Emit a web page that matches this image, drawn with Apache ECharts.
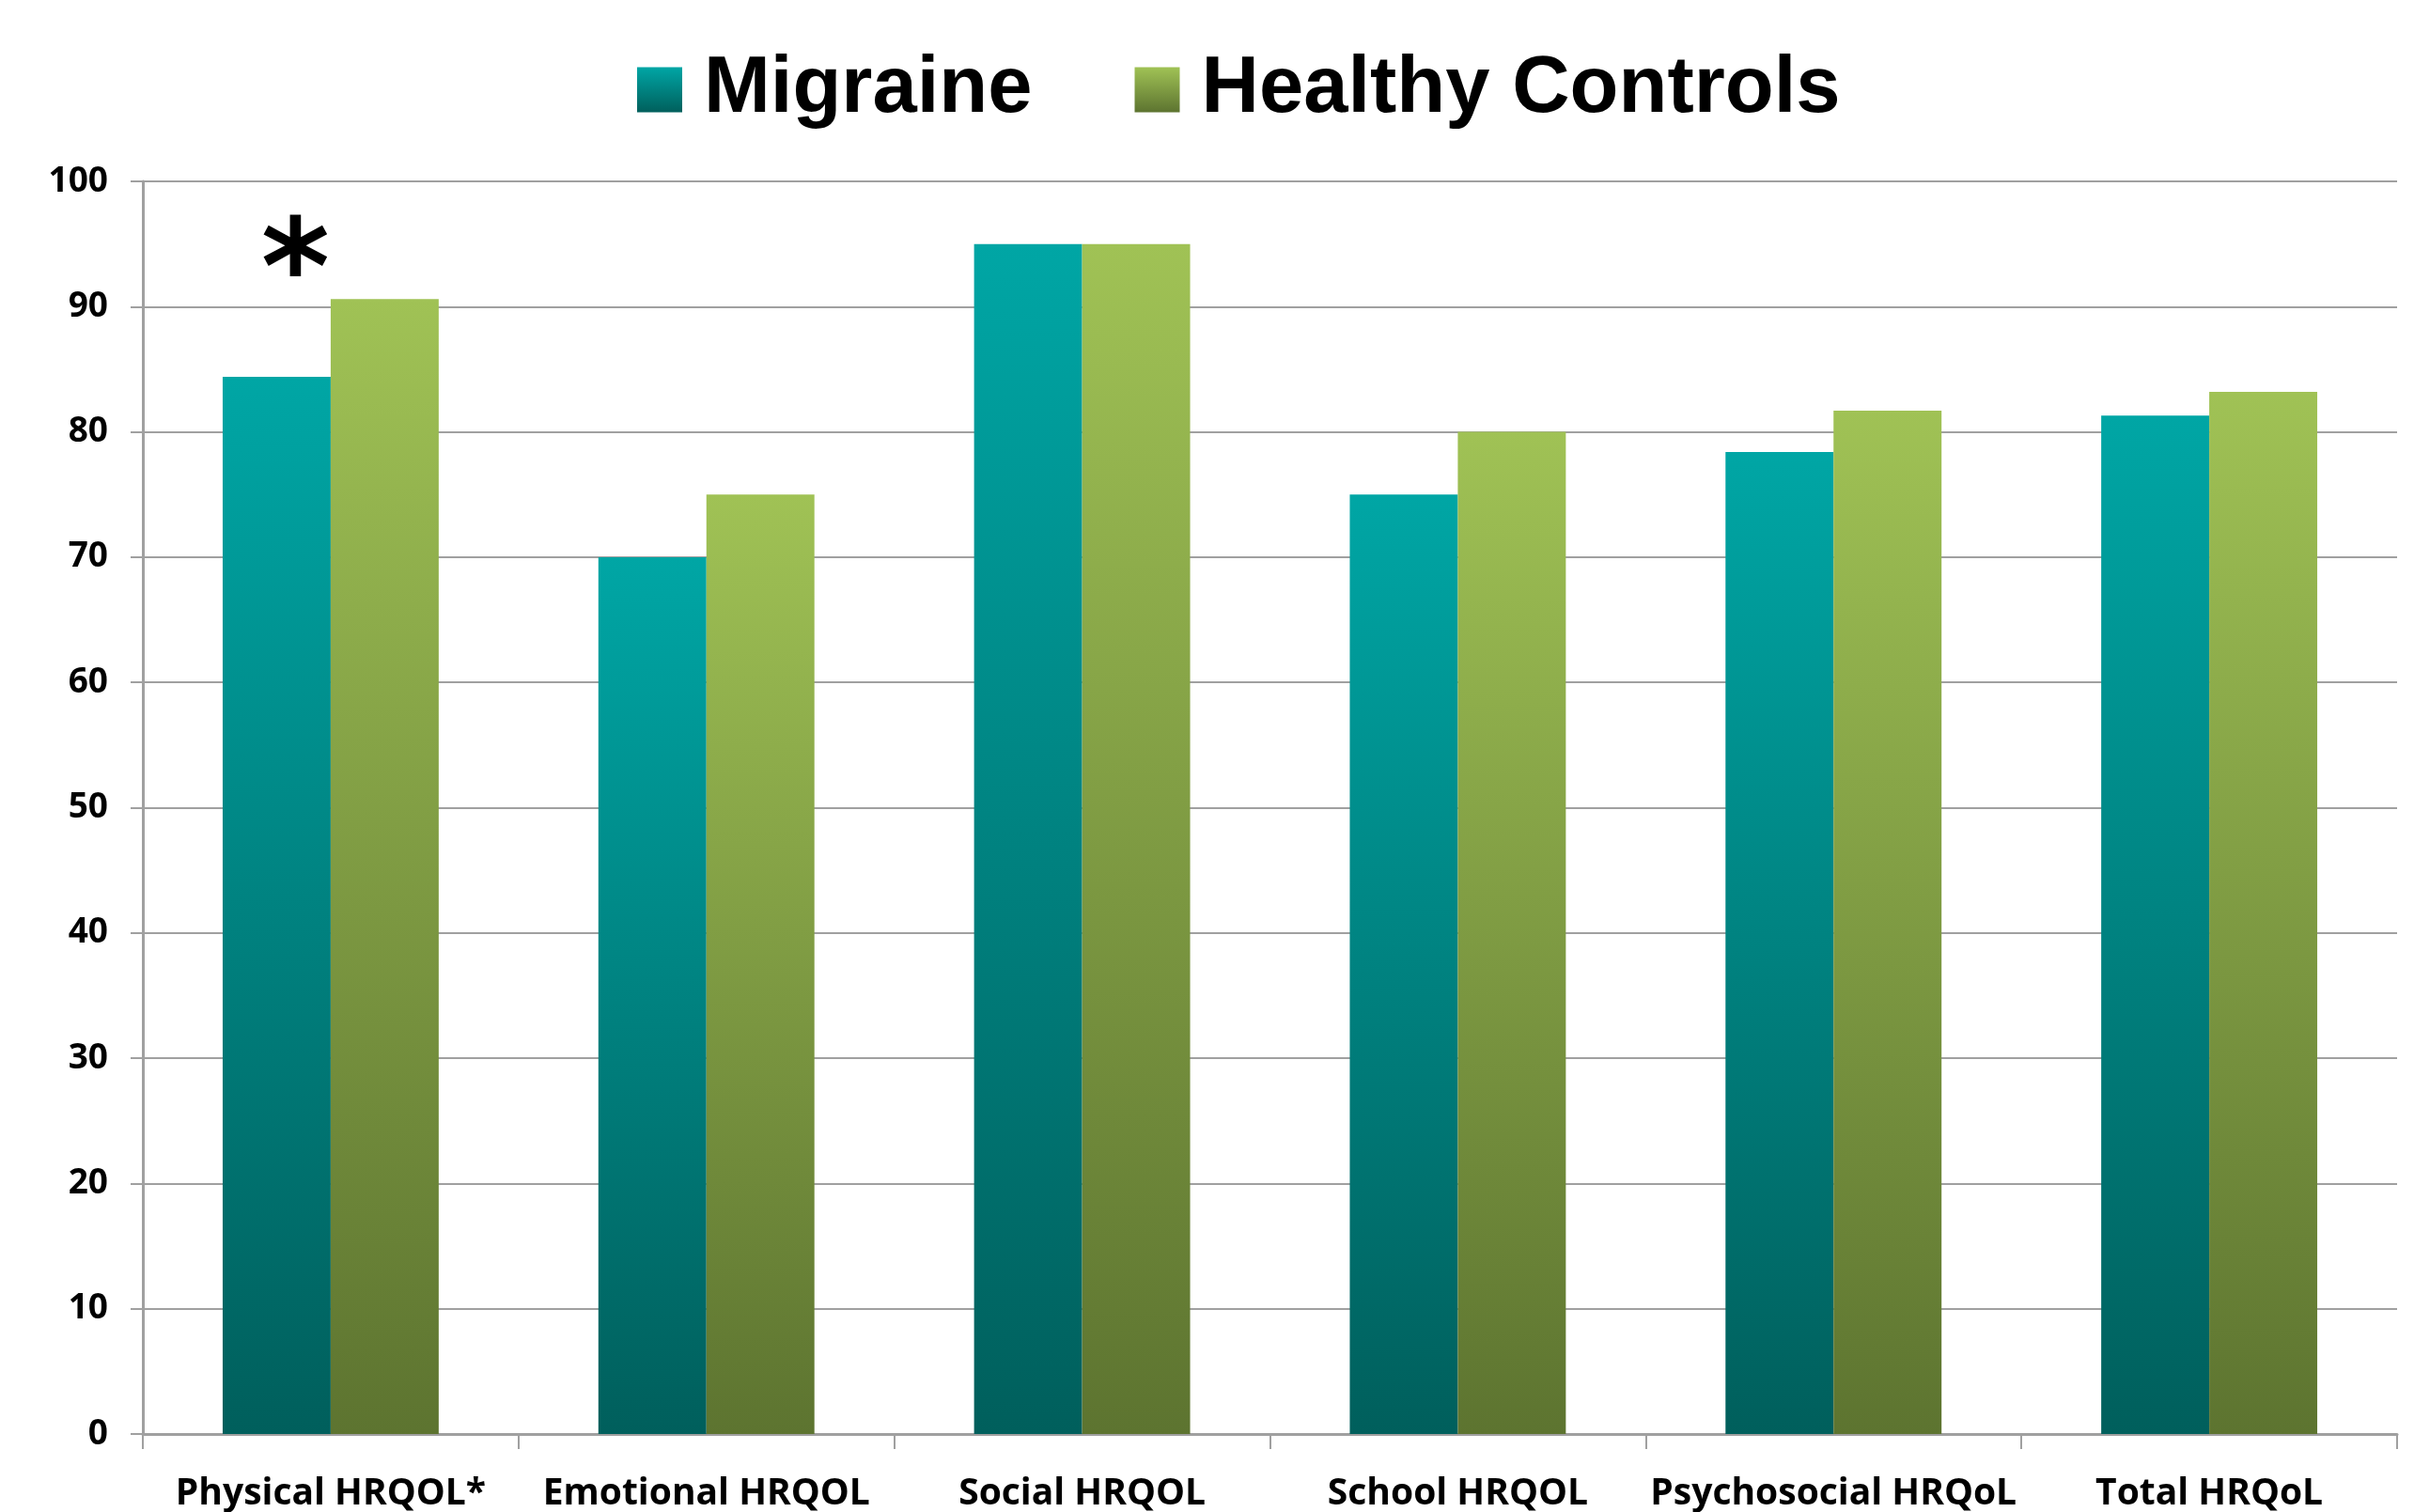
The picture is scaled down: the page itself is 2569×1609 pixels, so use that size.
<!DOCTYPE html>
<html><head><meta charset="utf-8">
<script src="https://cdn.jsdelivr.net/npm/echarts@6/dist/echarts.min.js"></script>
<style>html,body{margin:0;padding:0;background:#fff}#c{width:2569px;height:1609px}</style>
</head><body><div id="c"></div>
<script>
const categories = ['Physical HRQOL*', 'Emotional HRQOL', 'Social HRQOL', 'School HRQOL', 'Psychosocial HRQoL', 'Total HRQoL'];
const seriesNames = ['Migraine', 'Healthy Controls'];
const migraine = [84.4, 70.0, 95.0, 75.0, 78.4, 81.3];
const healthy = [90.6, 75.0, 95.0, 80.0, 81.7, 83.2];
const yTicks = [0, 10, 20, 30, 40, 50, 60, 70, 80, 90, 100];
const significance = ['*', '', '', '', '', ''];

const grad = (top, bottom) => new echarts.graphic.LinearGradient(0, 0, 0, 1, [{offset: 0, color: top}, {offset: 1, color: bottom}]);
const migColor = grad('#00A6A5', '#005F5C');
const hcColor = grad('#A0C255', '#5D7430');

const chart = echarts.init(document.getElementById('c'));
chart.setOption({
  animation: false,
  backgroundColor: '#ffffff',
  legend: {
    left: 673, top: 48,
    itemWidth: 48, itemHeight: 48, itemGap: 109,
    icon: 'rect',
    data: seriesNames,
    textStyle: {fontFamily: 'Liberation Sans', fontWeight: 'bold', fontSize: 85, color: '#000', padding: [0, 0, 0, 18]}
  },
  grid: {left: 152, right: 18, top: 193, bottom: 81},
  xAxis: {
    type: 'category', data: categories,
    axisLine: {lineStyle: {color: '#A0A0A0', width: 3}},
    axisTick: {show: true, length: 16, lineStyle: {color: '#A0A0A0', width: 2}},
    axisLabel: {fontFamily: 'Open Sans', fontWeight: 'bold', fontSize: 39, color: '#000', margin: 44, interval: 0}
  },
  yAxis: {
    type: 'value', min: yTicks[0], max: yTicks[yTicks.length - 1], interval: 10,
    axisLine: {show: true, lineStyle: {color: '#A0A0A0', width: 3}},
    axisTick: {show: true, length: 13, lineStyle: {color: '#A0A0A0', width: 2}},
    splitLine: {lineStyle: {color: '#A0A0A0', width: 2}},
    axisLabel: {fontFamily: 'Open Sans', fontWeight: 'bold', fontSize: 37, color: '#000', margin: 37}
  },
  series: [
    {
      name: seriesNames[0], type: 'bar', barGap: '0%', barCategoryGap: '42.5%',
      itemStyle: {color: migColor},
      data: migraine.map((v, i) => ({
        value: v,
        label: significance[i] ? {show: true, position: 'top', formatter: significance[i], fontFamily: 'DejaVu Sans', fontWeight: 'bold', fontSize: 140, color: '#000', offset: [20, -29]} : {show: false}
      }))
    },
    {
      name: seriesNames[1], type: 'bar', barGap: '0%', barCategoryGap: '42.5%',
      itemStyle: {color: hcColor},
      data: healthy
    }
  ]
});
</script></body></html>
